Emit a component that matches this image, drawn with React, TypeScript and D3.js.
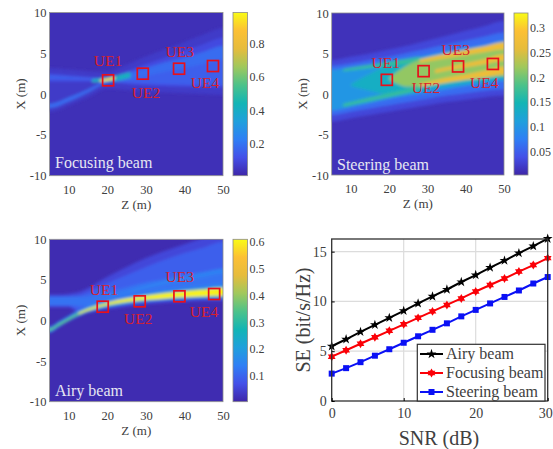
import React, { useRef, useEffect } from 'react';
import * as d3 from 'd3';

// parula-like colour stops
const parulaStops = ['#3e26a8', '#4450e8', '#2f7ff5', '#1fa0dc', '#12b5b5', '#4cc28a', '#a0c85c', '#e6bc3c', '#fcc034', '#f9fb15'];

const zTicks = [10, 20, 30, 40, 50];
const xTicks = [-10, -5, 0, 5, 10];

// Focusing beam
const focusZ = [5, 10, 15, 20, 25, 30, 35, 40, 45, 50];
const focusHaloHi = [3.2, 3, 2.8, 2.7, 3.6, 4.6, 5.5, 6.4, 7.3, 8.1];
const focusHaloLo = [-2.2, -1.4, -0.4, 0.7, 0.5, 0.3, 0.2, 0.1, 0, -0.1];
const focusFlatHi = [2.5, 2.3, 2.1, 1.95, 2.8, 3.7, 4.5, 5.3, 6.1, 6.9];
const focusFlatLo = [1.5, 1.5, 1.55, 1.5, 1.25, 1.05, 0.95, 0.9, 0.85, 0.8];
const focusBrightHi = [2.3, 2.15, 2, 1.9, 2.5, 3.1, 3.7, 4.3, 4.9, 5.5];
const focusBrightLo = [1.8, 1.75, 1.7, 1.55, 1.4, 1.3, 1.2, 1.15, 1.1, 1.05];
const focusRayHi = [-1.2, -0.4, 0.6, 1.8, 2.5, 3.2, 3.9, 4.5, 5.2, 5.9];
const focusRayLo = [-1.7, -0.9, 0.2, 1.4, 1.7, 2.2, 2.7, 3.2, 3.7, 4.2];
const focusCoreZ = [16, 18, 20, 22, 24, 26];
const focusCoreHi = [1.8, 1.9, 2, 2.2, 2.45, 2.7];
const focusCoreLo = [1.45, 1.5, 1.55, 1.65, 1.8, 2];
const focusHotZ = [18, 20, 22];
const focusHotHi = [1.75, 1.95, 2.15];
const focusHotLo = [1.5, 1.6, 1.85];

// Steering beam
const steerZ = [5, 10, 15, 20, 25, 30, 35, 40, 45, 50];
const steerFarHi = [4.2, 4.6, 5, 5.5, 6, 6.6, 7.2, 7.8, 8.4, 9];
const steerFarLo = [-3.4, -3, -2.6, -2.2, -1.8, -1.4, -1, -0.7, -0.4, -0.2];
const steerHaloHi = [3.5, 3.8, 4.2, 4.6, 5.1, 5.6, 6.1, 6.6, 7.1, 7.6];
const steerHaloLo = [-2.6, -2.2, -1.8, -1.4, -1, -0.6, -0.2, 0.1, 0.4, 0.6];
const steerMainHi = [3, 3.3, 3.6, 4, 4.4, 4.8, 5.3, 5.7, 6.1, 6.6];
const steerMainLo = [-2, -1.6, -1.1, -0.6, -0.2, 0.2, 0.6, 1, 1.3, 1.6];
const steerInnerZ = [10, 15, 20, 25, 30, 35, 40, 45, 50];
const steerInnerHi = [1.2, 2.5, 3.6, 4.2, 4.6, 5, 5.4, 5.8, 6.2];
const steerInnerLo = [1, 0.4, -0.1, 0.2, 0.6, 1, 1.3, 1.6, 1.9];
const steerEdgeZ = [8, 15, 20, 28];
const steerEdgeUpHi = [3.1, 3.6, 4, 4.6];
const steerEdgeUpLo = [2.8, 3.2, 3.5, 3.9];
const steerEdgeDownHi = [-1.2, -0.4, 0.1, 0.95];
const steerEdgeDownLo = [-1.6, -0.9, -0.4, 0.4];
const steerBodyZ = [20, 25, 30, 35, 40, 45, 50];
const steerBodyHi = [2, 3.6, 4.5, 5, 5.5, 5.9, 6.4];
const steerBodyLo = [1.8, 0.9, 1, 1.35, 1.7, 1.95, 2.2];
const steerUpperZ = [28, 32, 36, 40, 45, 50];
const steerUpperHi = [4.3, 4.7, 5.1, 5.4, 5.9, 6.4];
const steerUpperLo = [3.9, 4.2, 4.5, 4.8, 5.2, 5.5];
const steerLowerZ = [28, 32, 36, 40, 45, 50];
const steerLowerHi = [1.25, 1.7, 2.1, 2.4, 2.9, 3.4];
const steerLowerLo = [0.9, 1.2, 1.5, 1.8, 2.1, 2.4];
const steerStripeZ = [32, 36, 40, 45, 50];
const steerStripeHi = [3, 3.4, 3.8, 4.3, 4.9];
const steerStripeLo = [2.6, 3, 3.3, 3.7, 4.1];

// Airy beam
const airyZ = [5, 7.5, 10, 12.5, 15, 20, 25, 30, 35, 40, 45, 50];
const airyFarHi = [3.2, 3.2, 3.3, 3.5, 4, 5.4, 6.6, 7.7, 8.6, 9.4, 10.2, 11];
const airyFarLo = [1.6, 1.6, 1.6, 1, 1, 1.4, 1.7, 2, 2.2, 2.3, 2.4, 2.4];
const airyFanHi = [3, 3, 3, 3.1, 3.5, 4.6, 5.6, 6.6, 7.5, 8.3, 9, 9.7];
const airyFanLo = [1.8, 1.8, 1.8, 1.3, 1.3, 1.6, 2, 2.3, 2.5, 2.7, 2.8, 2.9];
const airyNearHi = [2.9, 2.9, 2.9, 2.9, 3, 3.5, 4.1, 4.7, 5.1, 5.6, 6, 6.4];
const airyNearLo = [1.9, 1.9, 1.9, 1.8, 1.8, 1.8, 2.2, 2.6, 2.9, 3, 3.1, 3.2];
const airyGlowHi = [-0.75, -0.1, 0.6, 1.25, 1.8, 2.5, 3, 3.4, 3.75, 4, 4.25, 4.5];
const airyGlowLo = [-1.5, -0.8, -0.1, 0.5, 1, 1.6, 2, 2.3, 2.5, 2.6, 2.7, 2.7];
const airyMidHi = [-0.95, -0.3, 0.35, 1, 1.55, 2.25, 2.75, 3.15, 3.45, 3.7, 3.9, 4.1];
const airyMidLo = [-1.3, -0.65, 0, 0.65, 1.15, 1.8, 2.2, 2.45, 2.65, 2.8, 2.9, 2.95];
const airyRidgeZ = [12.5, 15, 20, 25, 30, 35, 40, 45, 50];
const airyRidgeHi = [0.95, 1.45, 2.2, 2.7, 3.05, 3.35, 3.6, 3.8, 4];
const airyRidgeLo = [0.75, 1.2, 1.9, 2.3, 2.55, 2.72, 2.88, 3, 3.05];
const airyStripeZ = [20, 25, 30, 35, 40, 45, 50];
const airyStripeHi = [2.9, 3.6, 4.3, 4.9, 5.4, 5.9, 6.3];
const airyStripeLo = [2.7, 3.35, 3.95, 4.5, 5, 5.4, 5.8];

// UE positions
const focusUeZ = [20.2, 29.2, 38.6, 47.4];
const focusUeX = [1.69, 2.5, 3.11, 3.44];
const steerUeZ = [19.4, 29, 38, 47.1];
const steerUeX = [1.75, 2.82, 3.4, 3.71];
const airyUeZ = [18.8, 28.4, 38.7, 47.7];
const airyUeX = [1.7, 2.36, 2.98, 3.26];
const ueNames = ['UE1', 'UE2', 'UE3', 'UE4'];

// Spectral efficiency
const snr = [0, 2, 4, 6, 8, 10, 12, 14, 16, 18, 20, 22, 24, 26, 28, 30];
const airySE = [5.5, 6.2, 6.95, 7.65, 8.35, 9.05, 9.8, 10.5, 11.2, 11.95, 12.65, 13.4, 14.1, 14.85, 15.55, 16.3];
const focusSE = [4.45, 5.1, 5.75, 6.4, 7.05, 7.7, 8.35, 9, 9.65, 10.3, 11, 11.65, 12.3, 13, 13.65, 14.35];
const steerSE = [2.75, 3.3, 3.9, 4.55, 5.2, 5.85, 6.5, 7.15, 7.8, 8.5, 9.15, 9.8, 10.45, 11.1, 11.8, 12.45];

const band = (v: number, z: number[], hi: number[], lo: number[]) => ({ v, z, hi, lo });

const panels = [
  {
    name: 'Focusing beam', id: 'f', box: [49.5, 223, 12.5, 175.7], cbar: [233, 247.5], dom: [0.005, 0.99], cbTicks: [0.2, 0.4, 0.6, 0.8],
    bg: 0.03, ueZ: focusUeZ, ueX: focusUeX,
    labels: [[108, 66], [146, 97.7], [179.7, 57], [205, 87.7]], textY: 168, textX: 55,
    bands: [
      band(0.06, focusZ, focusHaloHi, focusHaloLo),
      band(0.1, focusZ, focusFlatHi, focusFlatLo),
      band(0.15, focusZ, focusBrightHi, focusBrightLo),
      band(0.18, focusZ, focusRayHi, focusRayLo),
      band(0.42, focusCoreZ, focusCoreHi, focusCoreLo),
      band(0.95, focusHotZ, focusHotHi, focusHotLo),
    ],
  },
  {
    name: 'Steering beam', id: 's', box: [331.7, 504, 13, 175], cbar: [514, 528], dom: [0.002, 0.33], cbTicks: [0.05, 0.1, 0.15, 0.2, 0.25, 0.3],
    bg: 0.012, ueZ: steerUeZ, ueX: steerUeX,
    labels: [[385.7, 68], [426, 93.3], [455.7, 55], [484.3, 87.7]], textY: 170, textX: 337,
    bands: [
      band(0.03, steerZ, steerFarHi, steerFarLo),
      band(0.06, steerZ, steerHaloHi, steerHaloLo),
      band(0.1, steerZ, steerMainHi, steerMainLo),
      band(0.135, steerInnerZ, steerInnerHi, steerInnerLo),
      band(0.17, steerEdgeZ, steerEdgeUpHi, steerEdgeUpLo),
      band(0.17, steerEdgeZ, steerEdgeDownHi, steerEdgeDownLo),
      band(0.215, steerBodyZ, steerBodyHi, steerBodyLo),
      band(0.27, steerUpperZ, steerUpperHi, steerUpperLo),
      band(0.27, steerLowerZ, steerLowerHi, steerLowerLo),
      band(0.27, steerStripeZ, steerStripeHi, steerStripeLo),
    ],
  },
  {
    name: 'Airy beam', id: 'a', box: [49.5, 223, 239.3, 401.7], cbar: [233, 247.5], dom: [0.003, 0.61], cbTicks: [0.1, 0.2, 0.3, 0.4, 0.5, 0.6],
    bg: 0.012, ueZ: airyUeZ, ueX: airyUeX,
    labels: [[104, 295], [138.3, 324.3], [179.7, 282.3], [204, 316.7]], textY: 396, textX: 55,
    bands: [
      band(0.055, airyZ, airyFarHi, airyFarLo),
      band(0.09, airyZ, airyFanHi, airyFanLo),
      band(0.12, airyZ, airyNearHi, airyNearLo),
      band(0.15, airyZ, airyGlowHi, airyGlowLo),
      band(0.145, airyStripeZ, airyStripeHi, airyStripeLo),
      band(0.35, airyZ, airyMidHi, airyMidLo),
      band(0.6, airyRidgeZ, airyRidgeHi, airyRidgeLo),
    ],
  },
];

const FONT = '"Liberation Serif", serif';
const INK = '#404040';

const App = () => {
  const svgRef = useRef<SVGSVGElement>(null);

  useEffect(() => {
    const svg = d3.select(svgRef.current);
    svg.selectAll('*').remove();
    svg.style('font-family', FONT);
    const defs = svg.append('defs');
    const parula = d3.scaleLinear<string>()
      .domain(parulaStops.map((_, i) => i / (parulaStops.length - 1)))
      .range(parulaStops);

    const styleAxis = (g: any, size: number) => {
      g.selectAll('text').attr('fill', INK).style('font-size', size + 'px').style('font-family', FONT);
      g.select('.domain').remove();
    };

    panels.forEach((p) => {
      const [x0, x1, y0, y1] = p.box;
      const zScale = d3.scaleLinear().domain([5, 50]).range([x0, x1]);
      const xScale = d3.scaleLinear().domain([-10, 10]).range([y1, y0]);
      const colorNorm = d3.scaleLinear().domain(p.dom).range([0, 1]).clamp(true);
      const color = (v: number) => parula(colorNorm(v));

      defs.append('clipPath').attr('id', 'clip-' + p.id)
        .append('rect').attr('x', x0).attr('y', y0).attr('width', x1 - x0).attr('height', y1 - y0);
      defs.append('filter').attr('id', 'blur-' + p.id)
        .attr('filterUnits', 'userSpaceOnUse').attr('x', x0 - 40).attr('y', y0 - 40)
        .attr('width', x1 - x0 + 80).attr('height', y1 - y0 + 80)
        .append('feGaussianBlur').attr('stdDeviation', 1.5);

      const plot = svg.append('g').attr('clip-path', `url(#clip-${p.id})`);
      plot.append('rect').attr('x', x0).attr('y', y0).attr('width', x1 - x0).attr('height', y1 - y0)
        .attr('fill', color(p.bg));

      const layer = plot.append('g').attr('filter', `url(#blur-${p.id})`);
      const shape = d3.area<{ z: number; hi: number; lo: number }>()
        .x((d) => zScale(d.z)).y0((d) => xScale(d.lo)).y1((d) => xScale(d.hi))
        .curve(d3.curveMonotoneX);
      p.bands.forEach((b) => {
        // hold the end columns past the frame so the blur does not fade at the edge
        const atStart = b.z[0] === 5;
        const atEnd = b.z[b.z.length - 1] === 50;
        const zs = [...(atStart ? [-5] : []), ...b.z, ...(atEnd ? [60] : [])];
        const hi = [...(atStart ? [b.hi[0]] : []), ...b.hi, ...(atEnd ? [b.hi[b.hi.length - 1]] : [])];
        const lo = [...(atStart ? [b.lo[0]] : []), ...b.lo, ...(atEnd ? [b.lo[b.lo.length - 1]] : [])];
        const pts = zs.map((z, i) => ({ z, hi: hi[i], lo: lo[i] }));
        layer.append('path').attr('d', shape(pts)).attr('fill', color(b.v));
      });

      // frame
      svg.append('rect').attr('x', x0).attr('y', y0).attr('width', x1 - x0).attr('height', y1 - y0)
        .attr('fill', 'none').attr('stroke', '#8a8a8a').attr('stroke-width', 0.8);

      // axes
      const ax = svg.append('g').attr('transform', `translate(0,${y1})`)
        .call(d3.axisBottom(zScale).tickValues(zTicks).tickSize(0).tickPadding(9).tickFormat((d) => String(d)) as any);
      styleAxis(ax, 12.5);
      const ay = svg.append('g').attr('transform', `translate(${x0},0)`)
        .call(d3.axisLeft(xScale).tickValues(xTicks).tickSize(0).tickPadding(3).tickFormat((d) => String(d)) as any);
      styleAxis(ay, 12.5);
      svg.append('text').attr('x', (x0 + x1) / 2).attr('y', y1 + 33).attr('text-anchor', 'middle')
        .attr('fill', INK).style('font-size', '13px').text('Z (m)');
      svg.append('text').attr('transform', `translate(${x0 - 25},${(y0 + y1) / 2}) rotate(-90)`)
        .attr('text-anchor', 'middle').attr('fill', INK).style('font-size', '13px').text('X (m)');

      // UE markers
      p.ueZ.forEach((z, i) => {
        svg.append('rect').attr('x', zScale(z) - 5.5).attr('y', xScale(p.ueX[i]) - 5.5)
          .attr('width', 11).attr('height', 11).attr('fill', 'none')
          .attr('stroke', '#e8101c').attr('stroke-width', 1.7);
        svg.append('text').attr('x', p.labels[i][0]).attr('y', p.labels[i][1]).attr('text-anchor', 'middle')
          .attr('fill', '#d8202c').style('font-size', '15.5px').text(ueNames[i]);
      });
      svg.append('text').attr('x', p.textX).attr('y', p.textY).attr('fill', '#e6e6f2')
        .style('font-size', '16px').text(p.name);

      // colorbar
      const [c0, c1] = p.cbar;
      const grad = defs.append('linearGradient').attr('id', 'cb-' + p.id)
        .attr('x1', 0).attr('y1', 1).attr('x2', 0).attr('y2', 0);
      parulaStops.forEach((c, i) => {
        grad.append('stop').attr('offset', i / (parulaStops.length - 1)).attr('stop-color', c);
      });
      svg.append('rect').attr('x', c0).attr('y', y0).attr('width', c1 - c0).attr('height', y1 - y0)
        .attr('fill', `url(#cb-${p.id})`).attr('stroke', '#8a8a8a').attr('stroke-width', 0.8);
      const cScale = d3.scaleLinear().domain(p.dom).range([y1, y0]);
      const cb = svg.append('g').attr('transform', `translate(${c1},0)`)
        .call(d3.axisRight(cScale).tickValues(p.cbTicks).tickSize(0).tickPadding(2).tickFormat((d) => String(d)) as any);
      styleAxis(cb, 12);
    });

    // SE panel
    const left = 331.7, right = 547.7, top = 239, bottom = 401;
    const xS = d3.scaleLinear().domain([0, 30]).range([left, right]);
    const yS = d3.scaleLinear().domain([0, 16.27]).range([bottom, top]);
    const gridX = [10, 20];
    const gridY = [5, 10, 15];
    svg.append('g').selectAll('line').data(gridX).enter().append('line')
      .attr('x1', (d) => xS(d)).attr('x2', (d) => xS(d)).attr('y1', top).attr('y2', bottom)
      .attr('stroke', '#dcdcdc').attr('stroke-width', 1.2);
    svg.append('g').selectAll('line').data(gridY).enter().append('line')
      .attr('x1', left).attr('x2', right).attr('y1', (d) => yS(d)).attr('y2', (d) => yS(d))
      .attr('stroke', '#dcdcdc').attr('stroke-width', 1.2);

    const series = [
      { name: 'Airy beam', values: airySE, color: '#000000', marker: 'star' },
      { name: 'Focusing beam', values: focusSE, color: '#fb0007', marker: 'hex' },
      { name: 'Steering beam', values: steerSE, color: '#0a10f5', marker: 'square' },
    ];
    const drawMarker = (g: any, kind: string, color: string, x: number, y: number) => {
      if (kind === 'star') {
        g.append('path').attr('d', d3.symbol(d3.symbolStar, 30)()).attr('fill', color)
          .attr('transform', `translate(${x},${y})`);
      } else if (kind === 'hex') {
        [0, 180].forEach((r) => {
          g.append('path').attr('d', d3.symbol(d3.symbolTriangle, 26)()).attr('fill', color)
            .attr('transform', `translate(${x},${y}) rotate(${r})`);
        });
      } else {
        g.append('path').attr('d', d3.symbol(d3.symbolSquare, 36)()).attr('fill', color)
          .attr('transform', `translate(${x},${y})`);
      }
    };
    const line = d3.line<number>().x((_, i) => xS(snr[i])).y((d) => yS(d));
    series.forEach((s) => {
      const g = svg.append('g');
      g.append('path').attr('d', line(s.values)).attr('fill', 'none').attr('stroke', s.color).attr('stroke-width', 2);
      s.values.forEach((v, i) => drawMarker(g, s.marker, s.color, xS(snr[i]), yS(v)));
    });

    svg.append('rect').attr('x', left).attr('y', top).attr('width', right - left).attr('height', bottom - top)
      .attr('fill', 'none').attr('stroke', '#303030').attr('stroke-width', 1.3);

    const ax = svg.append('g').attr('transform', `translate(0,${bottom})`)
      .call(d3.axisBottom(xS).tickValues([0, 10, 20, 30]).tickSize(-3).tickPadding(7).tickFormat((d) => String(d)) as any);
    styleAxis(ax, 14);
    // the last label sits against the window edge
    ax.selectAll('text').filter((d: any) => d === 30).attr('dx', -2.5);
    const ay = svg.append('g').attr('transform', `translate(${left},0)`)
      .call(d3.axisLeft(yS).tickValues([0, 5, 10, 15]).tickSize(-3).tickPadding(5).tickFormat((d) => String(d)) as any);
    styleAxis(ay, 14);
    svg.append('text').attr('x', (left + right) / 2 - 0.7).attr('y', 445).attr('text-anchor', 'middle')
      .attr('fill', INK).style('font-size', '20px').text('SNR (dB)');
    svg.append('text').attr('transform', `translate(${left - 22},${(top + bottom) / 2}) rotate(-90)`)
      .attr('text-anchor', 'middle').attr('fill', INK).style('font-size', '20px').text('SE (bit/s/Hz)');

    // legend
    const legend = svg.append('g');
    legend.append('rect').attr('x', 417.3).attr('y', 344.3).attr('width', 127.7).attr('height', 56.7)
      .attr('fill', '#ffffff').attr('stroke', '#303030').attr('stroke-width', 1.2);
    series.forEach((s, i) => {
      const y = 354 + i * 19;
      legend.append('line').attr('x1', 420).attr('x2', 443).attr('y1', y).attr('y2', y)
        .attr('stroke', s.color).attr('stroke-width', 2);
      drawMarker(legend, s.marker, s.color, 431.5, y);
      legend.append('text').attr('x', 446).attr('y', y + 5).attr('fill', INK)
        .style('font-size', '16px').text(s.name);
    });
  }, []);

  return <svg ref={svgRef} width={553} height={449} style={{ position: 'absolute', left: 0, top: 0, background: '#fff' }} />;
};

export default App;
